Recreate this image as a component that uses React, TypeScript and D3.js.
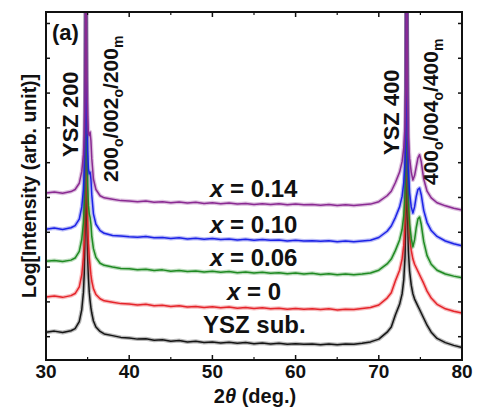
import React from "react";
import * as d3 from "d3";

const twoTheta = [
  30, 31, 32, 33, 33.5, 34, 34.3, 34.5, 34.6, 34.7, 34.75, 34.8, 34.85, 34.9, 35.0, 35.1, 35.2, 35.3, 35.4, 35.5, 35.7, 36, 36.5, 37,
  38, 39, 40, 41, 42, 43, 44, 45, 46, 47, 48, 49, 50, 51, 52, 53, 54, 55, 56, 57, 58, 59, 60, 61, 62, 63, 64, 65, 66, 67, 68, 69, 70,
  71, 71.5, 72, 72.5, 72.8, 73.0, 73.15, 73.25, 73.35, 73.45, 73.55, 73.7, 73.9, 74.1, 74.3, 74.5, 74.7, 74.9, 75.1, 75.4, 75.8, 76.3, 77, 78, 79, 80,
];

const yszSub = [
  0.8, 0.83, 0.79, 0.84, 0.9, 1.1, 1.45, 1.95, 2.5, 3.7, 5.3, 12, 5.4, 4.0, 3.0, 2.35, 1.95, 1.7, 1.5, 1.35, 1.12, 0.95, 0.82, 0.75,
  0.7, 0.65, 0.63, 0.6, 0.61, 0.57, 0.58, 0.54, 0.56, 0.52, 0.54, 0.5, 0.52, 0.49, 0.51, 0.48, 0.5, 0.47, 0.49, 0.46, 0.48, 0.45, 0.47, 0.45, 0.46, 0.44, 0.46, 0.44, 0.46, 0.45, 0.48, 0.52, 0.6,
  0.8, 0.95, 1.3, 1.6, 1.9, 2.3, 2.95, 4.05, 12, 4.25, 3.15, 2.55, 2.15, 1.9, 1.75, 1.65, 1.55, 1.45, 1.35, 1.2, 1.0, 0.8, 0.62, 0.5, 0.42, 0.36,
];

const x000 = [
  1.81, 1.84, 1.8, 1.85, 1.91, 2.1, 2.45, 2.95, 3.5, 4.7, 6.3, 12, 6.4, 5.0, 4.0, 3.35, 2.95, 2.7, 2.45, 2.27, 2.05, 1.88, 1.76, 1.7,
  1.66, 1.62, 1.61, 1.58, 1.6, 1.56, 1.57, 1.54, 1.56, 1.52, 1.54, 1.51, 1.53, 1.5, 1.52, 1.49, 1.51, 1.48, 1.5, 1.47, 1.49, 1.46, 1.48, 1.46, 1.47, 1.45, 1.47, 1.44, 1.46, 1.45, 1.48, 1.51, 1.58,
  1.78, 1.93, 2.28, 2.58, 2.9, 3.3, 3.95, 5.05, 12, 5.25, 4.15, 3.55, 3.15, 2.9, 2.75, 2.65, 2.55, 2.45, 2.35, 2.2, 1.98, 1.78, 1.6, 1.47, 1.4, 1.35,
];

const x006 = [
  2.84, 2.86, 2.83, 2.87, 2.93, 3.12, 3.47, 3.95, 4.5, 5.7, 7.3, 12, 7.4, 6.0, 5.0, 4.45, 4.2, 4.1, 3.9, 3.55, 3.2, 2.95, 2.78, 2.72,
  2.67, 2.63, 2.62, 2.59, 2.61, 2.57, 2.59, 2.55, 2.57, 2.54, 2.56, 2.53, 2.55, 2.52, 2.54, 2.51, 2.53, 2.5, 2.52, 2.49, 2.51, 2.48, 2.5, 2.47, 2.49, 2.46, 2.48, 2.45, 2.47, 2.45, 2.47, 2.5, 2.58,
  2.76, 2.9, 3.15, 3.45, 3.75, 4.15, 4.75, 5.9, 12, 5.8, 4.6, 3.9, 3.5, 3.25, 3.45, 3.8, 4.05, 4.11, 3.9, 3.4, 3.0, 2.75, 2.58, 2.47, 2.41, 2.36,
];

const x010 = [
  3.76, 3.79, 3.75, 3.8, 3.86, 4.05, 4.4, 4.9, 5.45, 6.65, 8.2, 12, 8.3, 7.0, 6.0, 5.5, 5.35, 5.4, 5.2, 4.75, 4.2, 3.9, 3.72, 3.64,
  3.58, 3.56, 3.54, 3.53, 3.55, 3.51, 3.52, 3.49, 3.51, 3.48, 3.5, 3.47, 3.49, 3.46, 3.48, 3.45, 3.47, 3.44, 3.46, 3.44, 3.45, 3.42, 3.44, 3.42, 3.43, 3.41, 3.43, 3.4, 3.42, 3.4, 3.42, 3.44, 3.52,
  3.7, 3.85, 4.1, 4.4, 4.7, 5.1, 5.7, 6.8, 12, 6.7, 5.5, 4.8, 4.4, 4.22, 4.4, 4.7, 4.9, 4.94, 4.75, 4.3, 3.95, 3.72, 3.55, 3.42, 3.34, 3.28,
];

const x014 = [
  4.8, 4.83, 4.79, 4.84, 4.9, 5.08, 5.42, 5.9, 6.45, 7.6, 9.2, 12, 9.3, 8.0, 7.0, 6.5, 6.45, 6.55, 6.3, 5.8, 5.2, 4.9, 4.72, 4.66,
  4.62, 4.58, 4.57, 4.55, 4.57, 4.53, 4.55, 4.52, 4.54, 4.51, 4.53, 4.5, 4.52, 4.49, 4.51, 4.48, 4.5, 4.47, 4.49, 4.47, 4.49, 4.46, 4.48, 4.46, 4.47, 4.45, 4.47, 4.44, 4.46, 4.44, 4.46, 4.48, 4.55,
  4.72, 4.85, 5.1, 5.4, 5.7, 6.1, 6.7, 7.8, 12, 7.6, 6.4, 5.8, 5.4, 5.17, 5.3, 5.55, 5.8, 5.9, 5.7, 5.2, 4.85, 4.66, 4.52, 4.43, 4.36, 4.31,
];

const seriesValues = [yszSub, x000, x006, x010, x014];
const seriesColors = ["#151515", "#e5242a", "#1f8a22", "#1c22e6", "#8a2a92"];

const xMajorTicks = [30, 40, 50, 60, 70, 80];
const xMinorTicks = [35, 45, 55, 65, 75];
const yTicks = [0.67, 1.67, 2.67, 3.67, 4.67, 5.67, 6.67, 7.67, 8.67, 9.67];

const FONT = "'Liberation Sans', Arial, sans-serif";

export default function App() {
  const W = 479, H = 412;
  const L = 46, R = 462, T = 12, B = 360;
  const x = d3.scaleLinear().domain([30, 80]).range([L, R]);
  const y = d3.scaleLinear().domain([0, 10]).range([B, T]);
  const line = d3
    .line<number>()
    .x((_, i) => x(twoTheta[i]))
    .y((v) => y(v));

  return (
    <svg width={W} height={H} style={{ position: "absolute", left: 0, top: 0, background: "#fff" }} fontFamily={FONT}>
      <defs>
        <clipPath id="plotClip">
          <rect x={L} y={T} width={R - L} height={B - T} />
        </clipPath>
      </defs>
      <rect x={0} y={0} width={W} height={H} fill="#fff" />
      <g clipPath="url(#plotClip)">
        {seriesValues.map((vals, i) => (
          <g key={i}>
            <path d={line(vals) || ""} fill="none" stroke={seriesColors[i]} strokeOpacity={0.3} strokeWidth={4} strokeLinejoin="round" />
            <path d={line(vals) || ""} fill="none" stroke={seriesColors[i]} strokeWidth={1.5} strokeLinejoin="round" />
          </g>
        ))}
      </g>
      {/* frame */}
      <rect x={L} y={T} width={R - L} height={B - T} fill="none" stroke="#111" strokeWidth={2} />
      {/* x ticks */}
      {xMajorTicks.map((t) => (
        <g key={"xm" + t}>
          <line x1={x(t)} x2={x(t)} y1={B} y2={B - 5} stroke="#111" strokeWidth={1.5} />
          <line x1={x(t)} x2={x(t)} y1={T} y2={T + 5} stroke="#111" strokeWidth={1.5} />
          <text x={x(t)} y={378} textAnchor="middle" fontSize={19} fontWeight="bold" fill="#111">
            {t}
          </text>
        </g>
      ))}
      {xMinorTicks.map((t) => (
        <g key={"xn" + t}>
          <line x1={x(t)} x2={x(t)} y1={B} y2={B - 3} stroke="#111" strokeWidth={1.2} />
          <line x1={x(t)} x2={x(t)} y1={T} y2={T + 3} stroke="#111" strokeWidth={1.2} />
        </g>
      ))}
      {yTicks.map((t) => (
        <g key={"y" + t}>
          <line x1={L} x2={L + 4} y1={y(t)} y2={y(t)} stroke="#111" strokeWidth={1.5} />
          <line x1={R} x2={R - 4} y1={y(t)} y2={y(t)} stroke="#111" strokeWidth={1.5} />
        </g>
      ))}
      {/* axis titles */}
      <text x={255} y={403} textAnchor="middle" fontSize={20} fontWeight="bold" fill="#111">
        2<tspan fontStyle="italic">θ</tspan> (deg.)
      </text>
      <text transform="translate(36,186) rotate(-90)" textAnchor="middle" fontSize={19.5} fontWeight="bold" fill="#111">
        Log[Intensity (arb. unit)]
      </text>
      {/* annotations */}
      <text x={52} y={40} fontSize={22} fontWeight="bold" fill="#111">(a)</text>
      <text transform="translate(78,157) rotate(-90)" fontSize={22} fontWeight="bold" fill="#111">YSZ 200</text>
      <text transform="translate(118,182) rotate(-90)" fontSize={21} fontWeight="bold" fill="#111">
        200<tspan fontSize={14} dy={5}>o</tspan><tspan dy={-5}>/002</tspan><tspan fontSize={14} dy={5}>o</tspan><tspan dy={-5}>/200</tspan><tspan fontSize={14} dy={5}>m</tspan>
      </text>
      <text transform="translate(399,155) rotate(-90)" fontSize={22} fontWeight="bold" fill="#111">YSZ 400</text>
      <text transform="translate(438,185) rotate(-90)" fontSize={21} fontWeight="bold" fill="#111">
        400<tspan fontSize={14} dy={5}>o</tspan><tspan dy={-5}>/004</tspan><tspan fontSize={14} dy={5}>o</tspan><tspan dy={-5}>/400</tspan><tspan fontSize={14} dy={5}>m</tspan>
      </text>
      <text x={210} y={197} fontSize={24} fontWeight="bold" fill="#111">
        <tspan fontStyle="italic">x</tspan> = 0.14
      </text>
      <text x={210} y={233} fontSize={24} fontWeight="bold" fill="#111">
        <tspan fontStyle="italic">x</tspan> = 0.10
      </text>
      <text x={210} y={266} fontSize={24} fontWeight="bold" fill="#111">
        <tspan fontStyle="italic">x</tspan> = 0.06
      </text>
      <text x={227} y={300} fontSize={24} fontWeight="bold" fill="#111">
        <tspan fontStyle="italic">x</tspan> = 0
      </text>
      <text x={203} y={333} fontSize={24} fontWeight="bold" fill="#111">YSZ sub.</text>
    </svg>
  );
}
